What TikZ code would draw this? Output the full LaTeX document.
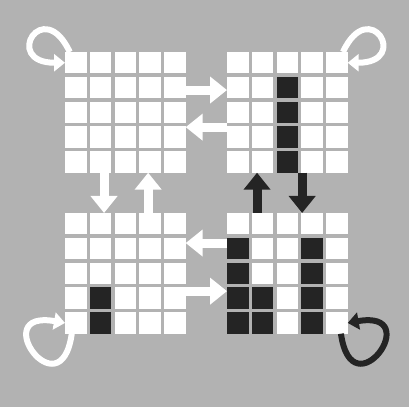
\documentclass[tikz,border=0pt]{standalone}
\usepackage{tikz}
\usetikzlibrary{calc,arrows.meta}
\definecolor{boardgray}{RGB}{178,178,178}
\definecolor{ink}{RGB}{36,36,36}

\begin{document}
\begin{tikzpicture}[x=1pt,y=1pt,
    cell/.style={fill=white,minimum size=21.5pt,inner sep=0pt,outer sep=0pt},
    bigarrow/.style={line width=9pt,-{Triangle[width=26pt,length=17pt]}},
    curl/.style={line width=6pt,-{Triangle[width=17pt,length=11pt]}}]
    \fill[boardgray] (0,0) rectangle (409,407);
    \useasboundingbox (0,0) rectangle (409,407);
    \foreach \g/\gx/\gy in {tl/65/52,tr/227/52,bl/65/213,br/227/213}
      \foreach \c in {1,...,5}
        \foreach \r in {1,...,5}
          \node[cell] (\g-\c-\r) at ({\gx+10.75+24.8*(\c-1)},{407-\gy-10.75-24.8*(\r-1)}) {};
    \foreach \on in {tr-3-2,tr-3-3,tr-3-4,tr-3-5,bl-2-4,bl-2-5,br-1-2,br-1-3,br-1-4,br-1-5,br-2-4,br-2-5,br-4-2,br-4-3,br-4-4,br-4-5}
      \fill[ink] (\on.south west) rectangle (\on.north east);
    \draw[bigarrow,white] ([yshift=-2.5pt]tl-5-2.east) -- ([yshift=-2.5pt]tr-1-2.west);
    \draw[bigarrow,white] ([yshift=10pt]tr-1-4.west) -- ([yshift=10pt]tl-5-4.east);
    \draw[bigarrow,white] ([yshift=5.5pt]br-1-2.west) -- ([yshift=5.5pt]bl-5-2.east);
    \draw[bigarrow,white] ([yshift=7pt]bl-5-4.east) -- ([yshift=7pt]br-1-4.west);
    \draw[bigarrow,white] ([xshift=3.5pt]tl-2-5.south) -- ([xshift=3.5pt]bl-2-1.north);
    \draw[bigarrow,white] ([xshift=-2pt]bl-4-1.north) -- ([xshift=-2pt]tl-4-5.south);
    \draw[bigarrow,ink] ([xshift=-5.5pt]br-2-1.north) -- ([xshift=-5.5pt]tr-2-5.south);
    \draw[bigarrow,ink] ([xshift=-10pt]tr-4-5.south) -- ([xshift=-10pt]br-4-1.north);
    \draw[curl,white] ([xshift=-6pt]tl-1-1.north) to[out=115,in=180,distance=63pt] (tl-1-1.west);
    \draw[curl,white] ([xshift=6pt]tr-5-1.north) to[out=65,in=0,distance=63pt] (tr-5-1.east);
    \draw[curl,white] ([xshift=-4pt]bl-1-5.south) to[out=-98,in=170,distance=80pt] (bl-1-5.west);
    \draw[curl,ink] ([xshift=4pt]br-5-5.south) to[out=-82,in=10,distance=80pt] (br-5-5.east);
\end{tikzpicture}
\end{document}
